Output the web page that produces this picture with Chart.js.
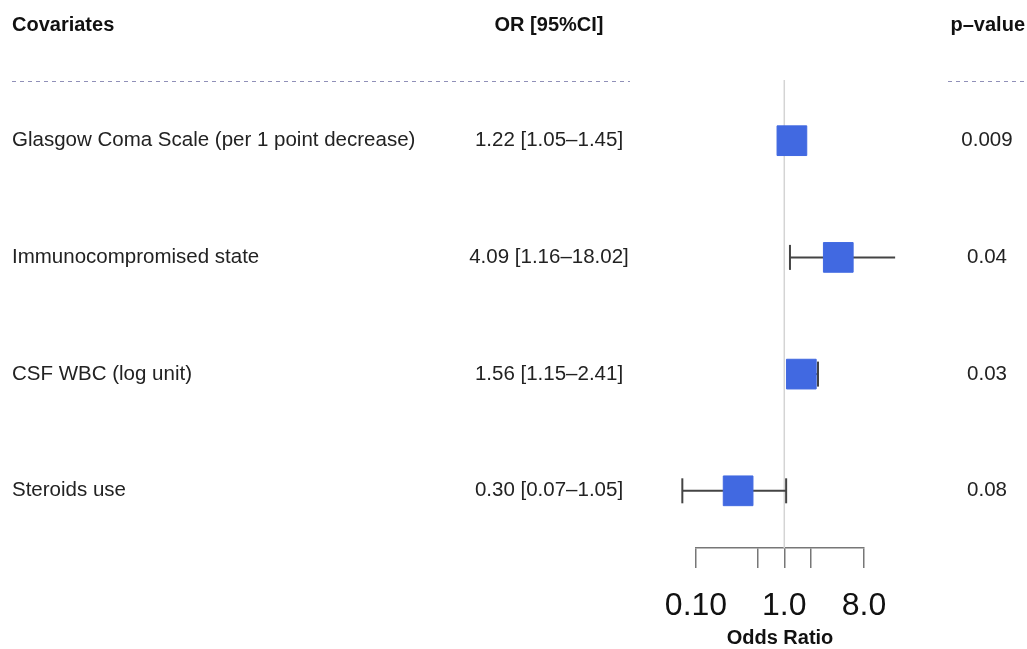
<!DOCTYPE html>
<html>
<head>
<meta charset="utf-8">
<script src="https://cdn.jsdelivr.net/npm/chart.js@4"></script>
<style>
  html, body { margin: 0; padding: 0; background: #fff; }
  #wrap { width: 1027px; height: 649px; }
</style>
</head>
<body>
<div id="wrap"><canvas id="forest"></canvas></div>
<script>
// data
var covariates = ['Glasgow Coma Scale (per 1 point decrease)', 'Immunocompromised state', 'CSF WBC (log unit)', 'Steroids use'];
var oddsRatio = [1.22, 4.09, 1.56, 0.30];
var ciLow = [1.05, 1.16, 1.15, 0.07];
var ciHigh = [1.45, 18.02, 2.41, 1.05];
var orText = ['1.22 [1.05\u20131.45]', '4.09 [1.16\u201318.02]', '1.56 [1.15\u20132.41]', '0.30 [0.07\u20131.05]'];
var pValues = ['0.009', '0.04', '0.03', '0.08'];
var tickValues = [0.1, 0.5, 1, 2, 8];
var tickLabels = {0.1: '0.10', 1: '1.0', 8: '8.0'};

var FONT = '"Liberation Sans", Arial, sans-serif';
var yMin = 0.48, yMax = 4.49;

var boxes = [];
for (var i = 0; i < oddsRatio.length; i++) {
  boxes.push({x: oddsRatio[i], y: i + 1});
}

var datasets = [{
  type: 'scatter',
  label: 'OR',
  data: boxes,
  pointStyle: 'rect',
  pointRadius: 21,
  pointHoverRadius: 21,
  backgroundColor: '#4169e1',
  borderColor: '#4169e1',
  borderWidth: 1,
  clip: false,
  order: 0
}];

// one line per confidence interval, caps drawn as rotated line points
for (var i = 0; i < ciLow.length; i++) {
  datasets.push({
    type: 'line',
    label: 'CI ' + (i + 1),
    data: [{x: ciLow[i], y: i + 1}, {x: ciHigh[i], y: i + 1}],
    borderColor: '#444',
    borderWidth: 2,
    pointStyle: 'line',
    rotation: 90,
    pointRadius: 12.5,
    pointHoverRadius: 12.5,
    pointBorderColor: '#444',
    pointBorderWidth: 2,
    clip: false,
    order: 1
  });
}

// reference line at OR = 1
datasets.push({
  type: 'line',
  label: 'ref',
  data: [{x: 1, y: yMin}, {x: 1, y: yMax}],
  borderColor: '#d4d4d4',
  borderWidth: 1.5,
  pointRadius: 0,
  clip: false,
  order: 2
});

var tablePlugin = {
  id: 'tablePlugin',
  afterDraw: function(chart) {
    var ctx = chart.ctx;
    var ys = chart.scales.y;
    ctx.save();
    ctx.fillStyle = '#111';
    ctx.textBaseline = 'middle';

    ctx.font = 'bold 20px ' + FONT;
    ctx.textAlign = 'left';
    ctx.fillText('Covariates', 12, 25);
    ctx.textAlign = 'center';
    ctx.fillText('OR [95%CI]', 549, 25);
    ctx.textAlign = 'right';
    ctx.fillText('p\u2013value', 1025, 25);

    ctx.strokeStyle = '#9090b8';
    ctx.lineWidth = 1;
    ctx.setLineDash([4, 4]);
    ctx.beginPath();
    ctx.moveTo(12, 81.5);
    ctx.lineTo(630, 81.5);
    ctx.moveTo(948, 81.5);
    ctx.lineTo(1027, 81.5);
    ctx.stroke();
    ctx.setLineDash([]);

    ctx.fillStyle = '#222';
    ctx.font = '20.5px ' + FONT;
    for (var i = 0; i < covariates.length; i++) {
      var y = ys.getPixelForValue(i + 1);
      ctx.textAlign = 'left';
      ctx.fillText(covariates[i], 12, y);
      ctx.textAlign = 'center';
      ctx.fillText(orText[i], 549, y);
      ctx.fillText(pValues[i], 987, y);
    }
    ctx.restore();
  }
};

new Chart(document.getElementById('forest'), {
  data: {datasets: datasets},
  options: {
    responsive: true,
    maintainAspectRatio: false,
    animation: false,
    layout: {padding: {left: 696, right: 163, top: 80, bottom: 0}},
    plugins: {
      legend: {display: false},
      tooltip: {enabled: false}
    },
    elements: {line: {tension: 0}},
    scales: {
      x: {
        type: 'logarithmic',
        min: 0.1,
        max: 8,
        afterBuildTicks: function(scale) {
          scale.ticks = tickValues.map(function(v) { return {value: v}; });
        },
        afterFit: function(scale) {
          scale.height = 101;
        },
        ticks: {
          autoSkip: false,
          maxRotation: 0,
          padding: 22,
          color: '#111',
          font: {size: 32, family: FONT, lineHeight: 1},
          callback: function(v) { return tickLabels[v] || ''; }
        },
        grid: {
          drawOnChartArea: false,
          drawTicks: true,
          tickLength: 20,
          color: '#777',
          lineWidth: 1.5
        },
        border: {display: true, color: '#777', width: 1.5},
        title: {
          display: true,
          text: 'Odds Ratio',
          color: '#111',
          font: {size: 20, weight: 'bold', family: FONT, lineHeight: 1},
          padding: {top: 0, bottom: 1}
        }
      },
      y: {
        type: 'linear',
        display: false,
        reverse: true,
        min: yMin,
        max: yMax
      }
    }
  },
  plugins: [tablePlugin]
});
</script>
</body>
</html>
